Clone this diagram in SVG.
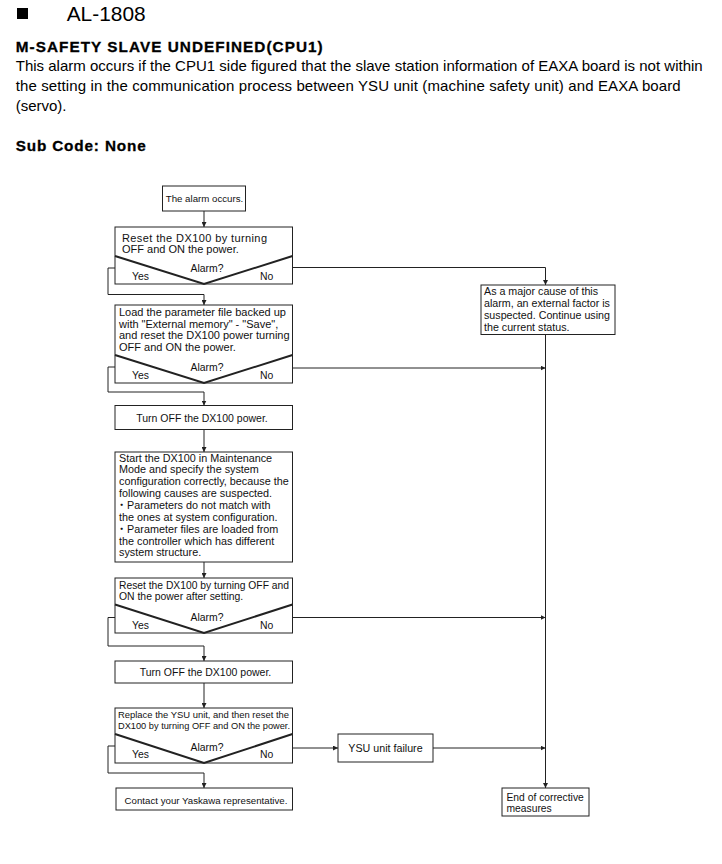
<svg xmlns="http://www.w3.org/2000/svg" width="722" height="864" viewBox="0 0 722 864">
<defs>
<marker id="ah" viewBox="0 0 6 6" refX="6" refY="3" markerWidth="5" markerHeight="5" orient="auto" markerUnits="userSpaceOnUse"><path d="M0,0 L6,3 L0,6 z" fill="#222"/></marker>
</defs>
<style>
.t{font-family:"Liberation Sans",Arial,"Noto Sans CJK JP",sans-serif;fill:#111}
.h{font-family:"Liberation Sans",Arial,sans-serif;fill:#000}
.b{font-weight:bold}
.box{fill:#fff;stroke:#222;stroke-width:1}
.dec{fill:none;stroke:#222;stroke-width:2;stroke-linejoin:miter}
.ln{fill:none;stroke:#222;stroke-width:1}
.arr{marker-end:url(#ah)}
</style>
<rect width="722" height="864" fill="#fff"/>
<g id="header">
<rect x="17" y="8" width="11" height="11" fill="#000"/>
<text class="h" x="66.7" y="20.7" font-size="20" textLength="79" lengthAdjust="spacingAndGlyphs">AL-1808</text>
<text class="h b" x="15.7" y="52.3" font-size="15.3" textLength="307" lengthAdjust="spacing" stroke="#000" stroke-width="0.3">M-SAFETY SLAVE UNDEFINED(CPU1)</text>
<text class="h" x="15.7" y="70.7" font-size="15" textLength="687" lengthAdjust="spacing">This alarm occurs if the CPU1 side figured that the slave station information of EAXA board is not within</text>
<text class="h" x="15.7" y="91" font-size="15" textLength="665" lengthAdjust="spacing">the setting in the communication process between YSU unit (machine safety unit) and EAXA board</text>
<text class="h" x="15.7" y="111" font-size="15">(servo).</text>
<text class="h b" x="15.7" y="150.7" font-size="15.3" textLength="130" lengthAdjust="spacing" stroke="#000" stroke-width="0.3">Sub Code: None</text>
</g>
<g id="connectors">
<path class="ln arr" d="M204,211 V227"/>
<path class="ln arr" d="M115,268 H108 V294.5 H204 V305"/>
<path class="ln arr" d="M292.5,267.5 H545.5 V285"/>
<path class="ln arr" d="M115,367 H108 V392 H204 V405.5"/>
<path class="ln arr" d="M292.5,368 H545.5"/>
<path class="ln arr" d="M204,429.5 V452"/>
<path class="ln arr" d="M204,562 V578"/>
<path class="ln arr" d="M115,617.5 H108 V646 H204 V661"/>
<path class="ln arr" d="M292.5,617.5 H545.5"/>
<path class="ln arr" d="M204,683 V708"/>
<path class="ln arr" d="M115,746 H108 V773 H204 V788"/>
<path class="ln arr" d="M292.5,748 H338"/>
<path class="ln arr" d="M433,748 H545.5"/>
<path class="ln arr" d="M545.5,334 V788"/>
</g>
<g id="n_start">
<rect class="box" x="162.5" y="186" width="83" height="25"/>
<text class="t" x="204.5" y="202" font-size="9.7" text-anchor="middle">The alarm occurs.</text>
</g>
<g id="n_reset1">
<rect class="box" x="115" y="227" width="177.5" height="57"/>
<path class="dec" d="M115,256 L204,284 L292.5,256"/>
<text class="t" x="122" y="241.5" font-size="11" textLength="145" lengthAdjust="spacing">Reset the DX100 by turning</text>
<text class="t" x="122" y="252.5" font-size="11">OFF and ON the power.</text>
<text class="t" x="207" y="272" font-size="10.4" text-anchor="middle">Alarm?</text>
<text class="t" x="132" y="279.5" font-size="10.4">Yes</text>
<text class="t" x="260" y="279.5" font-size="10.4">No</text>
</g>
<g id="n_load">
<rect class="box" x="115" y="305" width="177.5" height="78"/>
<path class="dec" d="M115,355 L204,383 L292.5,355"/>
<text class="t" x="119" y="316" font-size="11">Load the parameter file backed up</text>
<text class="t" x="119" y="327.7" font-size="11">with "External memory" - "Save",</text>
<text class="t" x="119" y="339.4" font-size="11">and reset the DX100 power turning</text>
<text class="t" x="119" y="351" font-size="11">OFF and ON the power.</text>
<text class="t" x="207" y="371" font-size="10.4" text-anchor="middle">Alarm?</text>
<text class="t" x="132" y="378.5" font-size="10.4">Yes</text>
<text class="t" x="260" y="378.5" font-size="10.4">No</text>
</g>
<g id="n_off1">
<rect class="box" x="115" y="405.5" width="177.5" height="24"/>
<text class="t" x="202" y="421.5" font-size="10.5" text-anchor="middle">Turn OFF the DX100 power.</text>
</g>
<g id="n_maint">
<rect class="box" x="115" y="452" width="177.5" height="110"/>
<text class="t" x="119" y="461.5" font-size="10.8">Start the DX100 in Maintenance</text>
<text class="t" x="119" y="473.3" font-size="10.8">Mode and specify the system</text>
<text class="t" x="119" y="485.2" font-size="10.8">configuration correctly, because the</text>
<text class="t" x="119" y="497" font-size="10.8">following causes are suspected.</text>
<text class="t" x="116.3" y="508.9" font-size="10.8">・Parameters do not match with</text>
<text class="t" x="119" y="520.8" font-size="10.8">the ones at system configuration.</text>
<text class="t" x="116.3" y="532.6" font-size="10.8">・Parameter files are loaded from</text>
<text class="t" x="119" y="544.5" font-size="10.8">the controller which has different</text>
<text class="t" x="119" y="556.3" font-size="10.8">system structure.</text>
</g>
<g id="n_reset2">
<rect class="box" x="115" y="578" width="177.5" height="55"/>
<path class="dec" d="M115,604.5 L204,633 L292.5,604.5"/>
<text class="t" x="119" y="589" font-size="10.4" textLength="170" lengthAdjust="spacingAndGlyphs">Reset the DX100 by turning OFF and</text>
<text class="t" x="119" y="600" font-size="10.4">ON the power after setting.</text>
<text class="t" x="207" y="621" font-size="10.4" text-anchor="middle">Alarm?</text>
<text class="t" x="132" y="628.5" font-size="10.4">Yes</text>
<text class="t" x="260" y="628.5" font-size="10.4">No</text>
</g>
<g id="n_off2">
<rect class="box" x="115" y="661" width="177.5" height="22"/>
<text class="t" x="205.5" y="676" font-size="10.5" text-anchor="middle">Turn OFF the DX100 power.</text>
</g>
<g id="n_replace">
<rect class="box" x="115" y="708" width="177.5" height="55"/>
<path class="dec" d="M115,734 L204,763 L292.5,734"/>
<text class="t" x="118" y="718" font-size="9.5" textLength="171" lengthAdjust="spacingAndGlyphs">Replace the YSU unit, and then reset the</text>
<text class="t" x="118" y="729" font-size="9.5" textLength="172" lengthAdjust="spacingAndGlyphs">DX100 by turning OFF and ON the power.</text>
<text class="t" x="207" y="750.5" font-size="10.4" text-anchor="middle">Alarm?</text>
<text class="t" x="132" y="758" font-size="10.4">Yes</text>
<text class="t" x="260" y="758" font-size="10.4">No</text>
</g>
<g id="n_contact">
<rect class="box" x="116" y="788" width="176.5" height="22"/>
<text class="t" x="206" y="803.5" font-size="9.7" text-anchor="middle">Contact your Yaskawa representative.</text>
</g>
<g id="n_external">
<rect class="box" x="481" y="285" width="134" height="49.5"/>
<text class="t" x="484" y="294.5" font-size="10.7">As a major cause of this</text>
<text class="t" x="484" y="306.7" font-size="10.7">alarm, an external factor is</text>
<text class="t" x="484" y="319" font-size="10.7">suspected. Continue using</text>
<text class="t" x="484" y="331" font-size="10.7">the current status.</text>
</g>
<g id="n_ysu">
<rect class="box" x="338" y="734" width="95" height="28"/>
<text class="t" x="385.5" y="752" font-size="10.7" text-anchor="middle">YSU unit failure</text>
</g>
<g id="n_end">
<rect class="box" x="502" y="788" width="87" height="28"/>
<text class="t" x="506.5" y="801" font-size="10.3">End of corrective</text>
<text class="t" x="506.5" y="811.5" font-size="10.3">measures</text>
</g>
</svg>
